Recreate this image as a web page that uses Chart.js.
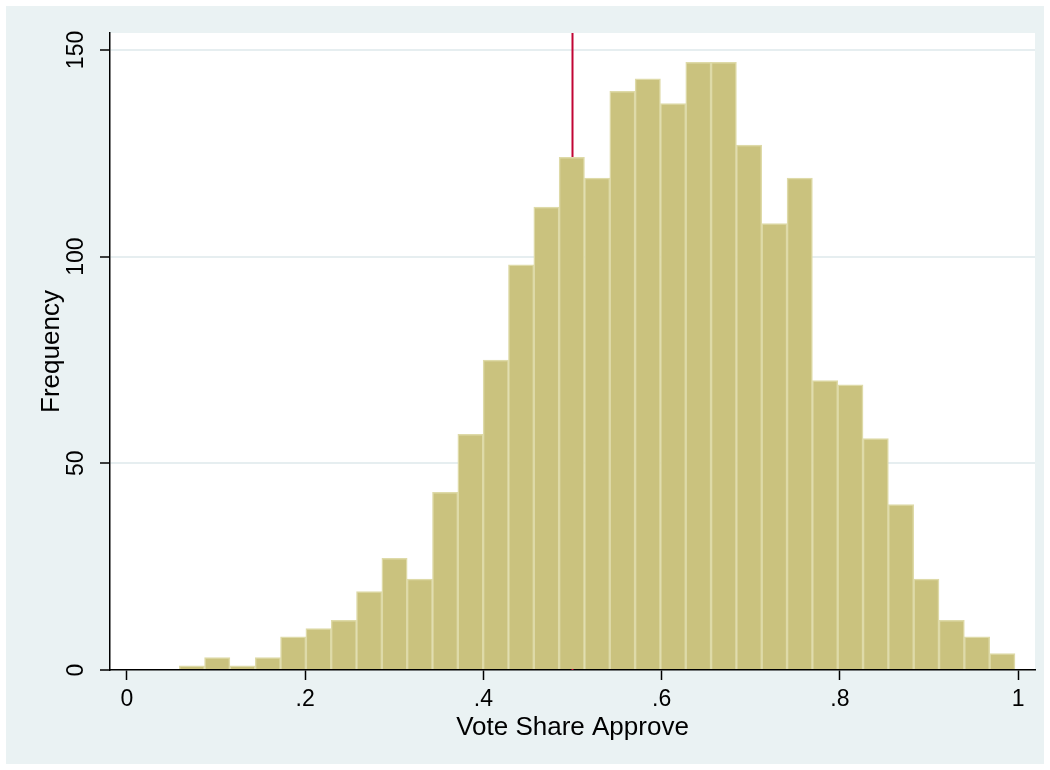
<!DOCTYPE html>
<html>
<head>
<meta charset="utf-8">
<script src="https://cdn.jsdelivr.net/npm/chart.js@4.4.1/dist/chart.umd.min.js"></script>
<style>
  html, body { margin: 0; padding: 0; background: #fff; }
  #wrap { position: absolute; left: 0; top: 0; width: 1050px; height: 770px; }
</style>
</head>
<body>
<div id="wrap"><canvas id="hist" width="1050" height="770"></canvas></div>
<script>
// histogram of vote share, 33 bins
var binStart = 0.0587;
var binWidth = 0.02842;
var counts = [1, 3, 1, 3, 8, 10, 12, 19, 27, 22, 43, 57, 75, 98, 112, 124, 119, 140, 143, 137, 147, 147, 127, 108, 119, 70, 69, 56, 40, 22, 12, 8, 4];
var xTickValues = [0, 0.2, 0.4, 0.6, 0.8, 1];
var xTickLabels = ['0', '.2', '.4', '.6', '.8', '1'];
var yTickValues = [0, 50, 100, 150];
var yTickLabels = ['0', '50', '100', '150'];
var refLine = 0.5;

var bars = counts.map(function (c, i) {
  return { x: binStart + (i + 0.5) * binWidth, y: c };
});

Chart.defaults.font.family = "'Liberation Sans', Arial, sans-serif";
Chart.defaults.color = '#000';

// stata-like backgrounds
var bgPlugin = {
  id: 'bg',
  beforeDraw: function (chart) {
    var c = chart.ctx, a = chart.chartArea;
    c.save();
    c.fillStyle = '#ffffff';
    c.fillRect(0, 0, chart.width, chart.height);
    c.fillStyle = '#eaf2f3';
    c.fillRect(6, 6, chart.width - 12, chart.height - 12);
    c.fillStyle = '#ffffff';
    c.fillRect(a.left, a.top, a.right - a.left, a.bottom - a.top);
    c.restore();
  }
};

// xline(.5) drawn under the bars
var xlinePlugin = {
  id: 'xline',
  beforeDatasetsDraw: function (chart) {
    var c = chart.ctx, a = chart.chartArea;
    var px = chart.scales.x.getPixelForValue(refLine);
    c.save();
    c.strokeStyle = '#c10534';
    c.lineWidth = 2;
    c.beginPath();
    c.moveTo(px, a.top);
    c.lineTo(px, a.bottom);
    c.stroke();
    c.restore();
  }
};

var ctx = document.getElementById('hist').getContext('2d');
var chart = new Chart(ctx, {
  type: 'bar',
  data: {
    datasets: [{
      data: bars,
      backgroundColor: '#cac27e',
      borderColor: '#dedaa8',
      borderWidth: 1.5,
      barPercentage: 1,
      categoryPercentage: 1
    }]
  },
  options: {
    responsive: false,
    animation: false,
    layout: { padding: { left: 0, right: 15, top: 33, bottom: 0 } },
    plugins: { legend: { display: false }, tooltip: { enabled: false } },
    scales: {
      x: {
        type: 'linear',
        min: -0.019,
        max: 1.019,
        offset: false,
        afterBuildTicks: function (s) {
          s.ticks = xTickValues.map(function (v) { return { value: v }; });
        },
        afterFit: function (s) { s.height = 100; },
        ticks: {
          font: { size: 23 },
          padding: 6,
          maxRotation: 0,
          callback: function (v, i) { return xTickLabels[i]; }
        },
        grid: { offset: false, drawOnChartArea: false, tickLength: 10, tickColor: '#000', tickWidth: 1.5 },
        border: { color: '#000', width: 1.5 },
        title: { display: true, text: 'Vote Share Approve', font: { size: 26 }, padding: { top: 0, bottom: 27 } }
      },
      y: {
        min: 0,
        max: 154.1,
        afterBuildTicks: function (s) {
          s.ticks = yTickValues.map(function (v) { return { value: v }; });
        },
        afterFit: function (s) { s.width = 110; },
        ticks: {
          font: { size: 23 },
          padding: 4,
          minRotation: 90,
          maxRotation: 90,
          crossAlign: 'center',
          callback: function (v, i) { return yTickLabels[i]; }
        },
        grid: {
          color: function (c) { return c.tick && c.tick.value === 0 ? 'rgba(0,0,0,0)' : '#e6eef0'; },
          lineWidth: 2,
          tickLength: 10,
          tickColor: '#000',
          tickWidth: 1.5
        },
        border: { color: '#000', width: 1.5 },
        title: { display: true, text: 'Frequency', font: { size: 26 }, padding: { top: 36, bottom: 0 } }
      }
    }
  },
  plugins: [bgPlugin, xlinePlugin]
});
</script>
</body>
</html>
